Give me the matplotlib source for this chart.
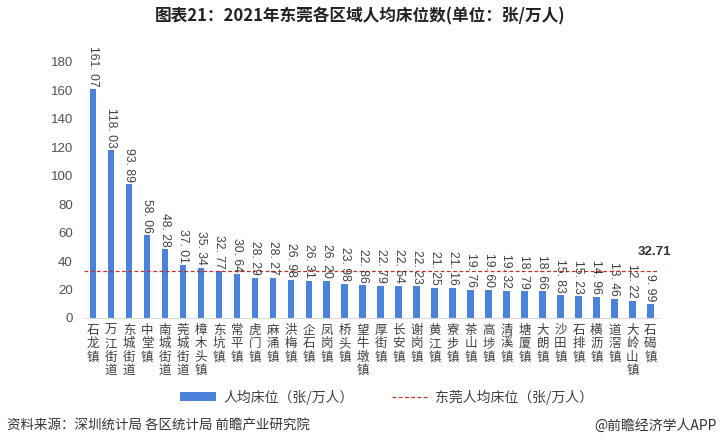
import matplotlib
matplotlib.use("Agg")
import matplotlib.pyplot as plt
from matplotlib.lines import Line2D
from matplotlib.patches import Patch

plt.rcParams['font.family'] = ['Noto Sans CJK SC', 'DejaVu Sans']

categories = ["石龙镇", "万江街道", "东城街道", "中堂镇", "南城街道", "莞城街道", "樟木头镇", "东坑镇",
              "常平镇", "虎门镇", "麻涌镇", "洪梅镇", "企石镇", "凤岗镇", "桥头镇", "望牛墩镇",
              "厚街镇", "长安镇", "谢岗镇", "黄江镇", "寮步镇", "茶山镇", "高埗镇", "清溪镇",
              "塘厦镇", "大朗镇", "沙田镇", "石排镇", "横沥镇", "道滘镇", "大岭山镇", "石碣镇"]
values = [161.07, 118.03, 93.89, 58.06, 48.28, 37.01, 35.34, 32.77,
          30.64, 28.29, 28.27, 26.98, 26.31, 26.20, 23.98, 22.86,
          22.79, 22.54, 22.23, 21.25, 21.16, 19.76, 19.60, 19.32,
          18.79, 18.66, 15.83, 15.23, 14.96, 13.46, 12.22, 9.99]
city_avg = 32.71
yticks = list(range(0, 181, 20))

fig = plt.figure(figsize=(7.2, 4.47), dpi=100)
ax = fig.add_axes([0.1167, 0.2886, 0.799, 0.5727])

bar_color = '#4a82dc'
x = list(range(len(categories)))
ax.bar(x, values, width=0.36, color=bar_color, zorder=2)
ax.axhline(city_avg, color='#c0302a', linestyle=(0, (3, 2)), linewidth=0.9, zorder=3)

num_font = ['Liberation Sans', 'DejaVu Sans']
for xi, v in zip(x, values):
    ax.annotate(f"{v:.2f}".replace('.', '. '), (xi, v), xytext=(0, 2), textcoords='offset points',
                rotation=-90, ha='center', va='bottom', fontsize=8.7, color='#404040',
                family=num_font, annotation_clip=False)

ax.text(len(categories) - 1 + 0.2, city_avg + 9.5, f"{city_avg:.2f}", ha='center', va='bottom',
        fontsize=9.5, fontweight='bold', color='#333333', family=num_font)

ax.set_xlim(-0.5, len(categories) - 0.5)
ax.set_ylim(0, 180)
ax.set_yticks(yticks)
ax.set_yticklabels([str(t) for t in yticks], fontsize=9.5, color='#505050', family=num_font)
ax.set_xticks(x)
ax.set_xticklabels(['\n'.join(c) for c in categories], fontsize=9, color='#404040',
                   linespacing=1.05, va='top')
ax.tick_params(axis='both', length=0)
ax.tick_params(axis='x', pad=4)
ax.tick_params(axis='y', pad=8)
for s in ['top', 'right', 'left']:
    ax.spines[s].set_visible(False)
ax.spines['bottom'].set_color('#d9d9d9')

fig.text(0.5, 0.963, "图表21：2021年东莞各区域人均床位数(单位：张/万人)", ha='center', va='center',
         fontsize=12, fontweight='bold', color='#222222')

handles = [Patch(facecolor=bar_color, edgecolor='none'),
           Line2D([0], [0], color='#c0302a', linestyle=(0, (3, 2)), linewidth=0.9)]
fig.legend(handles, ["人均床位（张/万人）", "东莞人均床位（张/万人）"], loc='center',
           bbox_to_anchor=(0.537, 0.112), ncol=2, frameon=False, fontsize=10,
           handlelength=2.6, handleheight=0.55, handletextpad=0.5, columnspacing=2.8,
           labelcolor='#404040')

fig.text(0.010, 0.048, "资料来源：深圳统计局 各区统计局 前瞻产业研究院", ha='left', va='center',
         fontsize=9.7, color='#333333')
fig.text(0.995, 0.048, "@前瞻经济学人APP", ha='right', va='center', fontsize=10, color='#333333')

fig.savefig("out.png", dpi=100)
